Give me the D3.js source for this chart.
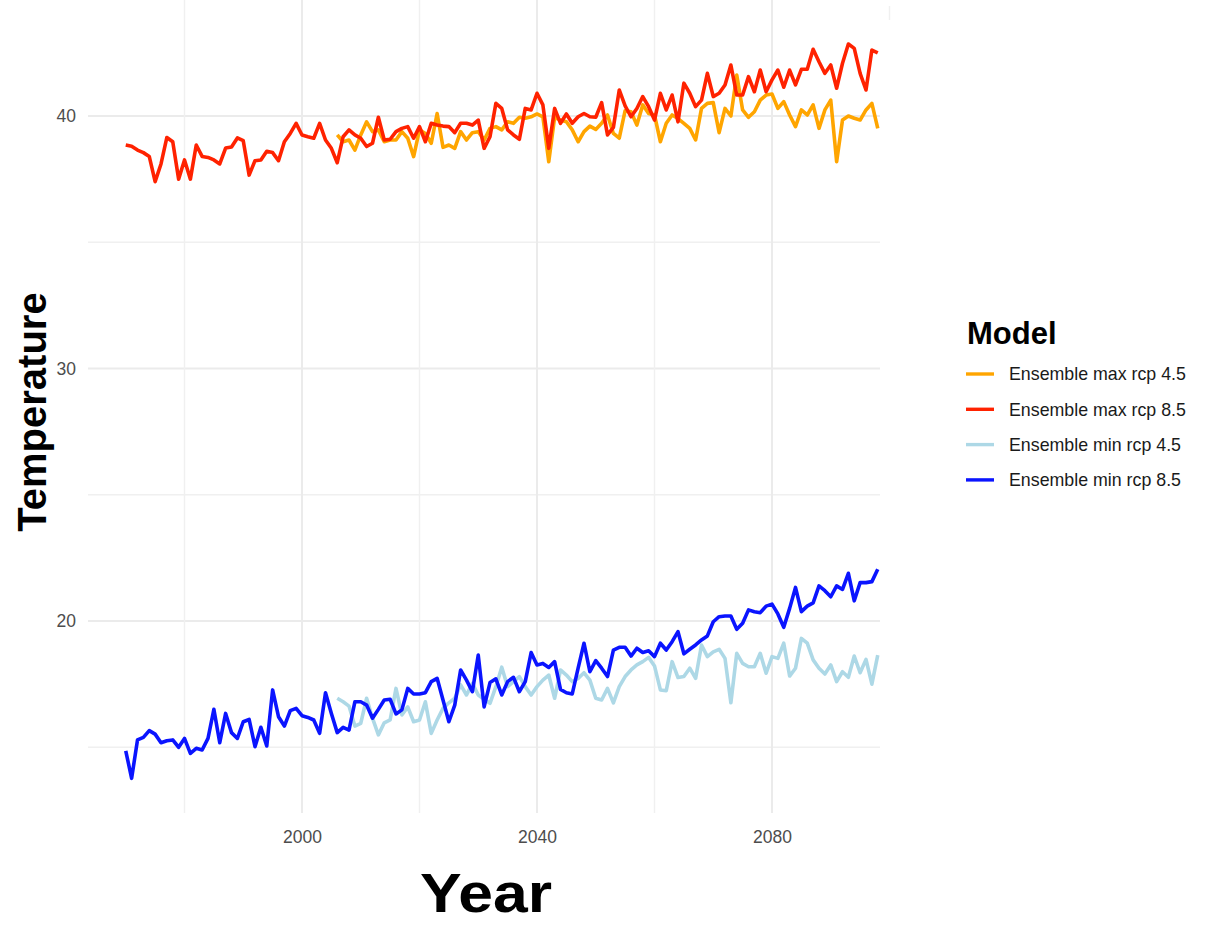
<!DOCTYPE html>
<html><head><meta charset="utf-8">
<script src="https://cdn.jsdelivr.net/npm/d3@7"></script>
<style>
html,body{margin:0;padding:0;background:#fff;}
svg{display:block;font-family:"Liberation Sans",Arial,sans-serif;}
</style></head>
<body><svg id="c" width="1206" height="927"></svg>
<script>
// ---- data ----
const seriesNames = ["Ensemble max rcp 4.5","Ensemble max rcp 8.5","Ensemble min rcp 4.5","Ensemble min rcp 8.5"];
const seriesColors = ["#ffa500","#ff2200","#add8e6","#0a14ff"];
const maxRcp85Start = 1970;
const maxRcp85 = [38.85,38.8,38.65,38.55,38.4,37.4,38.1,39.15,38.98,37.5,38.26,37.5,38.85,38.4,38.36,38.26,38.1,38.73,38.77,39.13,
 39.02,37.66,38.23,38.26,38.6,38.55,38.23,38.98,39.31,39.71,39.25,39.18,39.12,39.71,39.05,38.72,38.15,39.18,39.45,39.25,
 39.12,38.79,38.92,39.95,39.05,39.08,39.38,39.51,39.58,39.12,39.58,38.98,39.71,39.64,39.6,39.58,39.34,39.71,39.71,39.64,
 39.84,38.72,39.18,40.5,40.3,39.45,39.25,39.08,40.3,40.24,40.9,40.44,38.72,40.3,39.71,40.08,39.71,39.97,40.1,39.97,
 39.95,40.53,39.25,39.55,41.03,40.4,39.97,40.3,40.77,40.37,39.84,40.9,40.24,40.83,39.77,41.3,40.9,40.37,40.63,41.69,
 40.77,40.9,41.23,42.02,40.83,40.83,41.56,40.96,41.82,40.96,41.43,41.82,41.14,41.82,41.23,41.85,41.85,42.64,42.15,41.69,
 42.02,41.1,42.09,42.85,42.68,41.69,41.03,42.61,42.5];
const maxRcp45Start = 2006;
const maxRcp45 = [39.25,38.98,39.05,38.65,39.25,39.77,39.38,39.45,38.98,39.05,39.05,39.38,39.12,38.39,39.45,39.31,38.92,40.1,38.76,38.85,
 38.72,39.38,39.05,39.34,39.38,39.05,39.51,39.58,39.45,39.77,39.71,39.95,39.91,39.97,40.08,39.97,38.19,39.95,39.84,39.77,
 39.45,38.98,39.38,39.6,39.47,39.71,40.04,39.31,39.12,40.21,40.17,39.64,40.44,40.1,40.04,38.98,39.71,40.04,39.9,39.71,
 39.51,39.05,40.3,40.5,40.53,39.34,40.3,40.0,41.62,40.24,39.95,40.17,40.63,40.83,40.87,40.3,40.57,40.04,39.58,40.24,
 40.04,40.44,39.51,40.24,40.63,38.19,39.84,40.0,39.91,39.84,40.24,40.5,39.51];
const minRcp85Start = 1970;
const minRcp85 = [14.86,13.77,15.29,15.39,15.66,15.52,15.18,15.26,15.29,15.0,15.35,14.76,14.96,14.89,15.35,16.5,15.18,16.34,15.58,15.35,
 16.01,16.1,15.02,15.79,15.05,17.27,16.21,15.84,16.45,16.54,16.25,16.18,16.08,15.55,17.16,16.34,15.58,15.79,15.68,16.8,
 16.8,16.67,16.15,16.5,16.87,16.9,16.32,16.48,17.33,17.11,17.11,17.16,17.6,17.73,16.87,16.01,16.67,18.06,17.66,17.2,
 18.65,16.6,17.56,17.71,17.07,17.6,17.77,17.2,17.6,18.75,18.26,18.32,18.16,18.39,17.29,17.16,17.11,18.13,19.12,17.99,
 18.43,18.13,17.8,18.85,18.96,18.96,18.61,18.92,18.75,18.82,18.59,19.12,18.85,19.18,19.58,18.7,18.88,19.05,19.25,19.41,
 19.97,20.17,20.2,20.2,19.67,19.91,20.44,20.37,20.33,20.59,20.67,20.28,19.75,20.5,21.33,20.37,20.59,20.72,21.39,21.2,
 20.96,21.39,21.25,21.89,20.8,21.52,21.52,21.56,22.05];
const minRcp45Start = 2006;
const minRcp45 = [16.94,16.8,16.63,15.84,15.95,16.94,16.15,15.49,15.97,16.08,17.33,16.28,16.6,16.01,16.08,16.8,15.55,16.08,16.54,16.76,
 16.94,17.47,17.07,17.53,17.07,16.9,16.74,17.4,18.17,17.4,17.6,17.8,17.4,17.07,17.4,17.66,17.86,16.94,18.06,17.86,
 17.6,17.73,17.95,17.66,16.94,16.87,17.33,16.76,17.4,17.8,18.06,18.26,18.39,18.56,18.22,17.27,17.24,18.39,17.76,17.8,
 18.13,17.73,19.05,18.59,18.78,18.88,18.52,16.76,18.72,18.32,18.19,18.19,18.72,17.93,18.59,18.52,19.12,17.82,18.13,19.31,
 19.12,18.46,18.13,17.9,18.26,17.6,17.99,17.77,18.61,17.95,18.48,17.5,18.65];
const xMajorTicks = [2000,2040,2080];
const xMinorTicks = [1980,2020,2060,2100];
const yMajorTicks = [20,30,40];
const yMinorTicks = [15,25,35];

function toPoints(start, vals){ return vals.map((v,i)=>({year:start+i, value:v})); }
const series = [
  {name:seriesNames[0], color:seriesColors[0], pts:toPoints(maxRcp45Start,maxRcp45)},
  {name:seriesNames[1], color:seriesColors[1], pts:toPoints(maxRcp85Start,maxRcp85)},
  {name:seriesNames[2], color:seriesColors[2], pts:toPoints(minRcp45Start,minRcp45)},
  {name:seriesNames[3], color:seriesColors[3], pts:toPoints(minRcp85Start,minRcp85)}
];

// ---- layout ----
const svg = d3.select("#c");
const panel = {left:88, right:880, top:0, bottom:813};
const x = d3.scaleLinear().domain([2000,2080]).range([302,772]);
const y = d3.scaleLinear().domain([20,40]).range([621,116]);

const grid = svg.append("g");
grid.selectAll("line.hmin").data(yMinorTicks).join("line")
  .attr("x1",panel.left).attr("x2",panel.right).attr("y1",d=>y(d)).attr("y2",d=>y(d))
  .attr("stroke","#f0f0f0").attr("stroke-width",1.4);
grid.selectAll("line.hmaj").data(yMajorTicks).join("line")
  .attr("x1",panel.left).attr("x2",panel.right).attr("y1",d=>y(d)).attr("y2",d=>y(d))
  .attr("stroke","#ebebeb").attr("stroke-width",2);
grid.selectAll("line.vmin").data(xMinorTicks).join("line")
  .attr("x1",d=>x(d)).attr("x2",d=>x(d))
  .attr("y1",d=>d===2100?6:panel.top).attr("y2",d=>d===2100?20:panel.bottom)
  .attr("stroke","#f0f0f0").attr("stroke-width",1.4);
grid.selectAll("line.vmaj").data(xMajorTicks).join("line")
  .attr("x1",d=>x(d)).attr("x2",d=>x(d)).attr("y1",panel.top).attr("y2",panel.bottom)
  .attr("stroke","#ebebeb").attr("stroke-width",2);

// axes (text only, ggplot minimal)
const xAxis = d3.axisBottom(x).tickValues(xMajorTicks).tickFormat(d3.format("d")).tickSize(0).tickPadding(0);
const gx = svg.append("g").attr("transform",`translate(0,${panel.bottom+18})`).call(xAxis);
gx.select(".domain").remove();
gx.selectAll("text").attr("fill","#4d4d4d").style("font-size","17.5px").attr("dy","0.71em");

const yAxis = d3.axisLeft(y).tickValues(yMajorTicks).tickSize(0).tickPadding(0);
const gy = svg.append("g").attr("transform",`translate(76,0)`).call(yAxis);
gy.select(".domain").remove();
gy.selectAll("text").attr("fill","#4d4d4d").style("font-size","17.5px");

// lines
const line = d3.line().x(d=>x(d.year)).y(d=>y(d.value));
svg.append("g").selectAll("path").data(series).join("path")
  .attr("d",d=>line(d.pts)).attr("fill","none").attr("stroke",d=>d.color)
  .attr("stroke-width",3.6).attr("stroke-linejoin","round").attr("stroke-linecap","butt");

// titles
svg.append("text").attr("x",486).attr("y",912).attr("text-anchor","middle")
  .attr("textLength",132).attr("lengthAdjust","spacingAndGlyphs")
  .style("font-size","56px").style("font-weight","bold").attr("fill","#000").text("Year");
svg.append("text").attr("transform","translate(46,412) rotate(-90)").attr("text-anchor","middle")
  .style("font-size","40px").style("font-weight","bold").attr("fill","#000").text("Temperature");

// legend
const lg = svg.append("g");
lg.append("text").attr("x",967).attr("y",344).style("font-size","31px").style("font-weight","bold")
  .attr("fill","#000").text("Model");
const items = lg.selectAll("g.item").data(series).join("g")
  .attr("transform",(d,i)=>`translate(0,${374+i*35.3})`);
items.append("line").attr("x1",966).attr("x2",994).attr("y1",0).attr("y2",0)
  .attr("stroke",d=>d.color).attr("stroke-width",3.4);
items.append("text").attr("x",1009).attr("y",0).attr("dy","0.36em")
  .style("font-size","17.8px").attr("fill","#1a1a1a").text(d=>d.name);
</script>
</body></html>
